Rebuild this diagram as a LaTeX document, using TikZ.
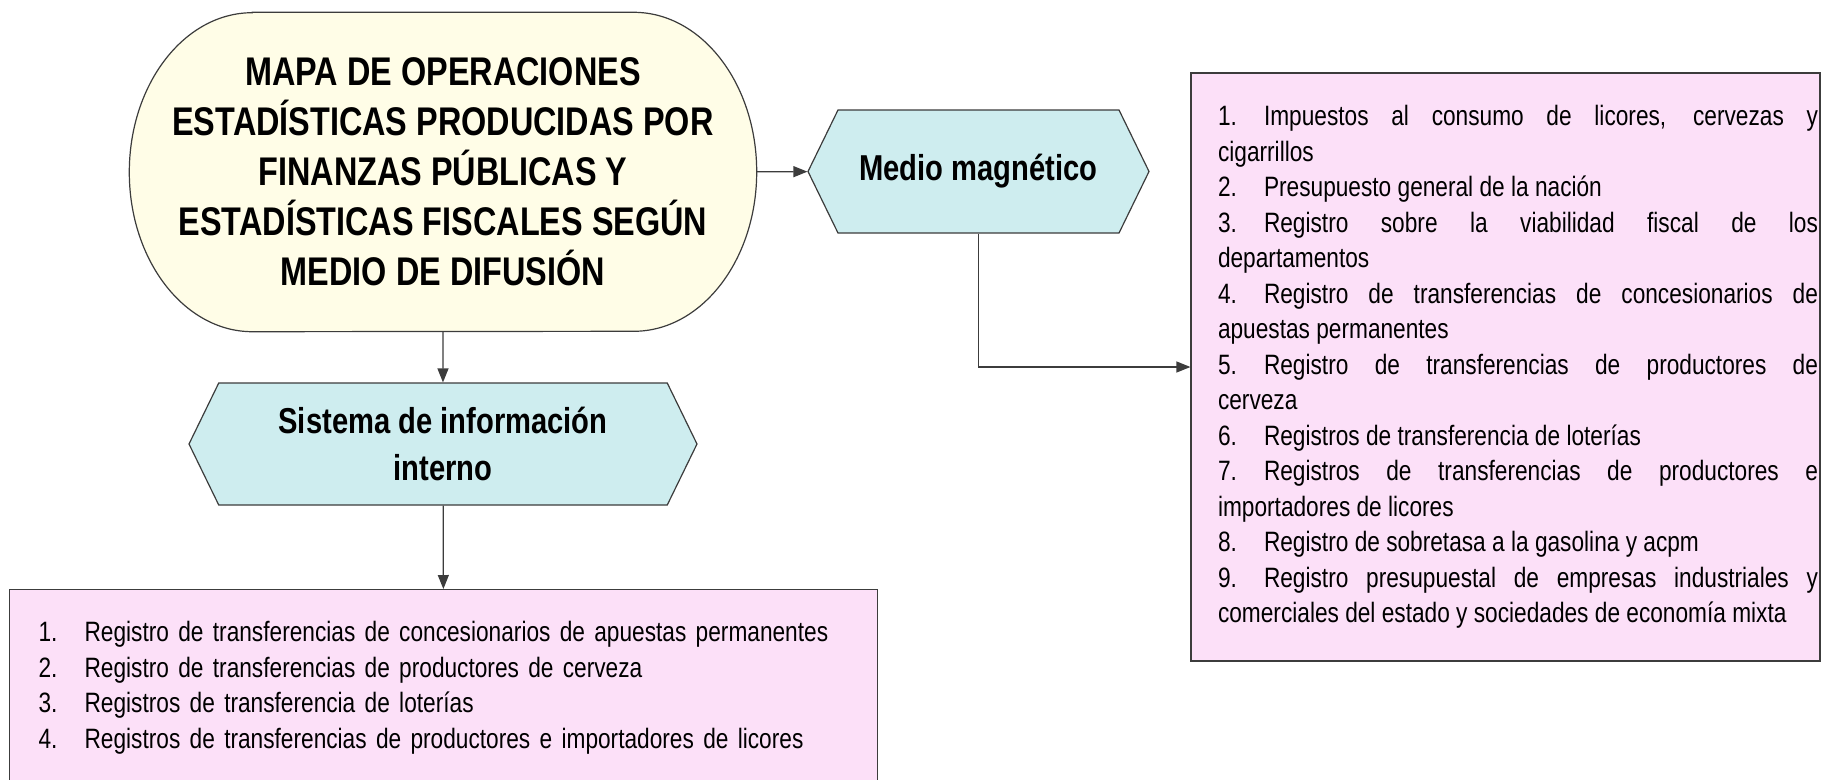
\documentclass[tikz,border=0pt]{standalone}
\usepackage{fontspec}
\usepackage{tikz}
\usepackage{xcolor}
\usetikzlibrary{shapes.symbols, arrows.meta, positioning, backgrounds}

\setmainfont{Liberation Sans}[FakeStretch=0.81]

\definecolor{termfill}{RGB}{255,253,231}
\definecolor{hexfill}{RGB}{206,237,239}
\definecolor{listfill}{RGB}{252,224,248}
\definecolor{edge}{RGB}{60,60,60}

\tikzset{
    terminal/.style={rectangle, minimum width=627pt, minimum height=319pt, align=center,
        font=\fontsize{40}{50}\selectfont\bfseries},
    termline/.style={draw=edge, line width=1.2pt, fill=termfill},
    medium/.style={signal, signal to=west and east, signal pointer angle=128,
        draw=edge, line width=1.2pt, fill=hexfill, align=center, inner sep=0pt,
        font=\fontsize{36}{47}\selectfont\bfseries},
    listbox/.style={rectangle, draw=edge, line width=1.2pt, fill=listfill, inner sep=0pt,
        font=\fontsize{28}{35.5}\selectfont},
    arr/.style={draw=edge, line width=1.2pt, -{Triangle[length=14pt, width=11pt]}}
}
\newcommand{\itm}[1]{\makebox[46pt][l]{#1}}

\begin{document}
\begin{tikzpicture}[x=1pt, y=-1pt]
    \useasboundingbox (0,0) rectangle (1822,779);

    \node[terminal] (mapa) at (443,172) {MAPA DE OPERACIONES\\ESTADÍSTICAS PRODUCIDAS POR\\FINANZAS PÚBLICAS Y\\ESTADÍSTICAS FISCALES SEGÚN\\MEDIO DE DIFUSIÓN};
    \begin{scope}[on background layer]
        \draw[termline] ([xshift=123pt]mapa.north west) -- ([xshift=-123pt]mapa.north east)
            arc[start angle=90, end angle=-90, x radius=123pt, y radius=159.5pt]
            -- ([xshift=123pt]mapa.south west)
            arc[start angle=270, end angle=90, x radius=123pt, y radius=159.5pt] -- cycle;
    \end{scope}

    \node[medium, minimum width=341pt, minimum height=123pt] (magnetico) at (978.5,171.5) {Medio magnético};
    \node[medium, minimum width=508pt, minimum height=122pt] (sistema) at (443,444) {Sistema de información\\interno};

    \node[listbox, minimum width=629pt, minimum height=588pt, text width=625pt, align=justify] (lista1) at (1505.5,367) {%
        \leftskip=25pt
        \itm{1.}Impuestos al consumo de licores, cervezas y\linebreak cigarrillos\par
        \itm{2.}Presupuesto general de la nación\par
        \itm{3.}Registro sobre la viabilidad fiscal de los\linebreak departamentos\par
        \itm{4.}Registro de transferencias de concesionarios de\linebreak apuestas permanentes\par
        \itm{5.}Registro de transferencias de productores de\linebreak cerveza\par
        \itm{6.}Registros de transferencia de loterías\par
        \itm{7.}Registros de transferencias de productores e\linebreak importadores de licores\par
        \itm{8.}Registro de sobretasa a la gasolina y acpm\par
        \itm{9.}Registro presupuestal de empresas industriales y\linebreak comerciales del estado y sociedades de economía mixta\par};

    \node[listbox, anchor=north west, minimum width=868pt, minimum height=196pt, text width=810pt, align=left] (lista2) at (9,589) {%
        \itm{1.}Registro de transferencias de concesionarios de apuestas permanentes\\
        \itm{2.}Registro de transferencias de productores de cerveza\\
        \itm{3.}Registros de transferencia de loterías\\
        \itm{4.}Registros de transferencias de productores e importadores de licores};

    \draw[arr] (mapa) to (magnetico);
    \draw[arr] (mapa) to (sistema);
    \draw[arr] (sistema) to (lista2);
    \draw[arr] (magnetico.south) |- (lista1.west);
\end{tikzpicture}
\end{document}
